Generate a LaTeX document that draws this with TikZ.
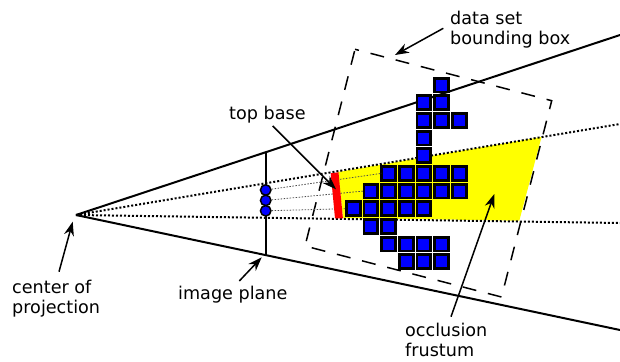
\documentclass[tikz,border=0pt]{standalone}
\usepackage{fontspec}
\setmainfont{DejaVu Sans}
\usetikzlibrary{arrows.meta}
\definecolor{frustumYellow}{RGB}{255,255,0}

\begin{document}
\begin{tikzpicture}[
	x=1pt, y=-1pt,
	% Line styles
	ray/.style={line width=2pt},
	ray dotted/.style={line width=2pt, dash pattern=on 2pt off 2pt},
	ray thin/.style={line width=.8pt, black!70, dash pattern=on 1.5pt off 1.5pt},
	bbox/.style={line width=1.5pt, dash pattern=on 14pt off 12pt, dash phase=10pt},
	pointer/.style={line width=1.5pt, -{Stealth[length=14pt, width=10pt, inset=4.5pt]}},
	% Shape styles
	voxel/.style={draw=black, fill=blue, line width=2.8pt, minimum size=13.8pt, inner sep=0pt, outer sep=0pt},
	pixel/.style={circle, draw=black, fill=blue, line width=1.5pt, minimum size=10.5pt, inner sep=0pt},
	% Text styles
	term label/.style={font=\fontsize{17.6}{20}\selectfont, align=left, inner sep=0pt, anchor=north west}
	]
	\useasboundingbox (0,0) rectangle (620,361);
	
	% ==============================================================================
	% FRUSTUM AND RAYS
	% ==============================================================================
	\coordinate (apex) at (76,215);
	\coordinate (topEnd) at (620,35);
	\coordinate (botEnd) at (620,330);
	\coordinate (dotTopEnd) at (620,124);
	\coordinate (dotBotEnd) at (620,223);
	\coordinate (planeTop) at (265.5,153);
	\coordinate (planeBot) at (265.5,255);
	
	\fill[frustumYellow] (338,172) -- (541.5,137) -- (519.3,220.7) -- (343,218) -- cycle;
	
	\draw[ray] (apex) -- (topEnd);
	\draw[ray] (apex) -- (botEnd);
	\draw[ray dotted] (apex) -- (dotTopEnd);
	\draw[ray dotted] (apex) -- (dotBotEnd);
	\draw[ray] (planeTop) -- (planeBot);
	
	% bounding box of the data
	\draw[bbox] (355,49.3) -- (551.7,100.7) -- (501.5,297) -- (305,246) -- cycle;
	
	% ==============================================================================
	% VOXELS
	% ==============================================================================
	\foreach \row/\cols in {0/{5}, 1/{4,5}, 2/{4,5,6}, 3/{4}, 4/{4},
		5/{2,3,4,5,6}, 6/{1,2,3,4,5,6}, 7/{0,1,2,3,4},
		8/{1,2}, 9/{2,3,4,5}, 10/{3,4,5}} {
		\foreach \col in \cols {
			\node[voxel] (V\row-\col) at ({353.2+17.67*\col},{85+17.67*\row}) {};
		}
	}
	
	% pixels and the rays through them
	\node[pixel] (P1) at (265.7,190) {};
	\node[pixel] (P2) at (265.7,200.4) {};
	\node[pixel] (P3) at (265.7,210.8) {};
	\draw[ray thin] (P1) -- (V5-2.west);
	\draw[ray thin] (P2) -- (V6-1.west);
	\draw[ray thin] (P3) -- (V7-0.west);
	
	% top base of the frustum
	\fill[red] (330.7,173.3) -- (338.5,172.3) -- (342.9,218.3) -- (335,218.3) -- cycle;
	
	% ==============================================================================
	% LABELS
	% ==============================================================================
	\node[term label] (lblBox) at (450,10.5) {data set\\bounding box};
	\node[term label] (lblBase) at (229,105.5) {top base};
	\node[term label] (lblCenter) at (12,279.5) {center of\\projection};
	\node[term label] (lblPlane) at (178,286) {image plane};
	\node[term label] (lblFrustum) at (405,322.5) {occlusion\\frustum};
	
	\coordinate (boxFrom) at (443.3,28.3);
	\coordinate (boxTo) at (395,55);
	\coordinate (baseFrom) at (272.7,126);
	\coordinate (baseTo) at (336,189.3);
	\coordinate (centerFrom) at (59,271.7);
	\coordinate (centerTo) at (72.7,221.7);
	\coordinate (planeFrom) at (239.3,281);
	\coordinate (planeTo) at (261.7,257.3);
	\coordinate (frustumFrom) at (451,316.7);
	\coordinate (frustumTo) at (494.3,194);
	
	\draw[pointer] (boxFrom) -- (boxTo);
	\draw[pointer] (baseFrom) -- (baseTo);
	\draw[pointer] (centerFrom) -- (centerTo);
	\draw[pointer] (planeFrom) -- (planeTo);
	\draw[pointer] (frustumFrom) -- (frustumTo);
	
\end{tikzpicture}
\end{document}
